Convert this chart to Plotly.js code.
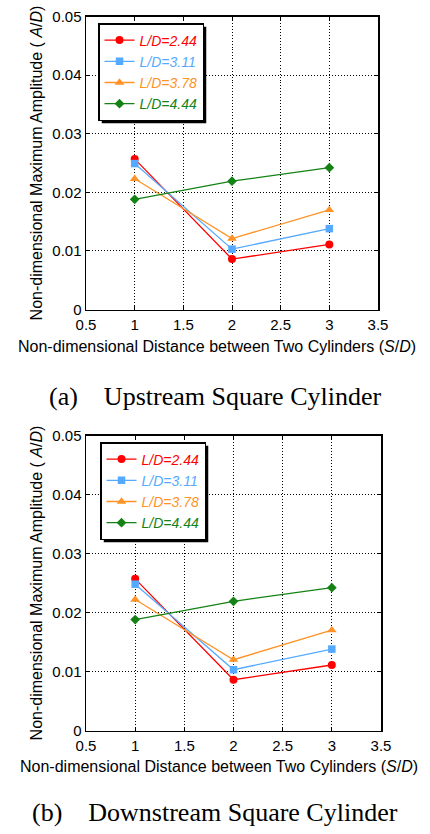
<!DOCTYPE html>
<html>
<head>
<meta charset="utf-8">
<script src="https://cdn.plot.ly/plotly-3.0.1.min.js"></script>
<style>html,body{margin:0;padding:0;background:#fff;}#chart{width:430px;height:834px;}</style>
</head>
<body>
<div id="chart"></div>
<script>
// Data (S/D positions and non-dimensional maximum amplitude A/D)
const spacing = [1, 2, 3];
const seriesNames = ["L/D=2.44", "L/D=3.11", "L/D=3.78", "L/D=4.44"];
// (a) Upstream square cylinder
const upLD244 = [0.0257, 0.0086, 0.0111];
const upLD311 = [0.0249, 0.0103, 0.0138];
const upLD378 = [0.0223, 0.0121, 0.0170];
const upLD444 = [0.0188, 0.0219, 0.0242];
// (b) Downstream square cylinder
const dnLD244 = [0.0257, 0.0086, 0.0111];
const dnLD311 = [0.0248, 0.0103, 0.0138];
const dnLD378 = [0.0222, 0.0120, 0.0170];
const dnLD444 = [0.0188, 0.0219, 0.0242];
const xTicks = [0.5, 1, 1.5, 2, 2.5, 3, 3.5];
const xTickText = ["0.5", "1", "1.5", "2", "2.5", "3", "3.5"];
const yTicks = [0, 0.01, 0.02, 0.03, 0.04, 0.05];
const yTickText = ["0", "0.01", "0.02", "0.03", "0.04", "0.05"];

const colors = ["#ff0000", "#55aaff", "#ff9326", "#148214"];
const symbols = ["circle", "square", "triangle-up", "diamond"];
const sizes = [8, 7.5, 8.5, 7.5];
const upData = [upLD244, upLD311, upLD378, upLD444];
const dnData = [dnLD244, dnLD311, dnLD378, dnLD444];

const traces = [];
function addSet(data, xa, ya, leg) {
  data.forEach((ys, i) => {
    traces.push({
      x: spacing, y: ys, xaxis: xa, yaxis: ya, legend: leg,
      type: "scatter", mode: "lines+markers",
      name: "<span style=\"color:" + colors[i] + "\"><i>" + seriesNames[i] + "</i></span>",
      line: {color: colors[i], width: 1.3},
      marker: {color: colors[i], symbol: symbols[i], size: sizes[i]},
      cliponaxis: false
    });
  });
}
addSet(upData, "x", "y", "legend");
addSet(dnData, "x2", "y2", "legend2");

const FONT = "Liberation Sans, Arial, sans-serif";
const tickFont = {family: FONT, size: 15, color: "#000"};
const titleFont = {family: FONT, size: 16, color: "#000"};
function xaxis(domain, anchor) {
  return {
    domain: domain, anchor: anchor, range: [0.5, 3.5],
    tickmode: "array", tickvals: xTicks, ticktext: xTickText,
    ticks: "inside", ticklen: 4, tickcolor: "#000", tickwidth: 1,
    showline: true, linecolor: "#000", linewidth: 1.5, mirror: "ticks",
    showgrid: true, gridcolor: "#000", gridwidth: 1, griddash: "1px,2px",
    zeroline: false, tickfont: tickFont, automargin: false, ticklabelstandoff: 1
  };
}
function yaxis(domain, anchor) {
  return {
    domain: domain, anchor: anchor, range: [0, 0.05],
    tickmode: "array", tickvals: yTicks, ticktext: yTickText,
    ticks: "inside", ticklen: 4, tickcolor: "#000", tickwidth: 1,
    showline: true, linecolor: "#000", linewidth: 1.5, mirror: "ticks",
    showgrid: true, gridcolor: "#000", gridwidth: 1, griddash: "1px,2px",
    zeroline: false, tickfont: tickFont, automargin: false,
    title: {text: "Non-dimensional Maximum Amplitude ( <i>A</i>/<i>D</i>)",
            font: titleFont, standoff: 5}
  };
}
const W = 430, H = 834;
const legendFont = {family: FONT, size: 14};
function legend(x, y) {
  return {
    x: x / W, y: 1 - y / H, xanchor: "left", yanchor: "top",
    bgcolor: "#fff", bordercolor: "#000", borderwidth: 1.5,
    font: legendFont, itemwidth: 30, tracegroupgap: 0,
    traceorder: "normal"
  };
}
function shadow(x0, y0, x1, y1) {
  return {type: "rect", xref: "paper", yref: "paper", layer: "above",
          x0: (x0 + 3) / W, x1: (x1 + 3) / W, y0: 1 - (y0 + 3) / H, y1: 1 - (y1 + 3) / H,
          fillcolor: "#000", line: {width: 0}};
}
const capFont = {family: "Liberation Serif, Times New Roman, serif", size: 26, color: "#000"};
const xTitle = "Non-dimensional Distance between Two Cylinders (<i>S</i>/<i>D</i>)";

const layout = {
  width: W, height: H,
  margin: {l: 0, r: 0, t: 0, b: 0},
  paper_bgcolor: "#fff", plot_bgcolor: "#fff",
  xaxis: xaxis([86 / W, 378 / W], "y"),
  yaxis: yaxis([1 - 309.5 / H, 1 - 16.5 / H], "x"),
  xaxis2: xaxis([86 / W, 381 / W], "y2"),
  yaxis2: yaxis([1 - 730.5 / H, 1 - 435.5 / H], "x2"),
  legend: legend(98, 23),
  legend2: legend(100, 442),
  shapes: [shadow(98, 23, 205, 110), shadow(100, 442, 207, 529)],
  annotations: [
    {text: xTitle, xref: "paper", yref: "paper",
     x: 217 / W, y: 1 - 346 / H, xanchor: "center", yanchor: "middle", showarrow: false,
     font: titleFont},
    {text: xTitle, xref: "paper", yref: "paper",
     x: 219 / W, y: 1 - 766 / H, xanchor: "center", yanchor: "middle", showarrow: false,
     font: titleFont},
    {text: "(a)&nbsp;&nbsp;&nbsp; Upstream Square Cylinder", xref: "paper", yref: "paper",
     x: 215 / W, y: 1 - 397 / H, xanchor: "center", yanchor: "middle", showarrow: false,
     font: capFont},
    {text: "(b)&nbsp;&nbsp;&nbsp; Downstream Square Cylinder", xref: "paper", yref: "paper",
     x: 215 / W, y: 1 - 812 / H, xanchor: "center", yanchor: "middle", showarrow: false,
     font: capFont}
  ]
};
Plotly.newPlot("chart", traces, layout, {staticPlot: true, displayModeBar: false}).then(gd => {
  // align the drop shadows with the rendered legend boxes
  const root = gd.getBoundingClientRect();
  const boxes = gd.querySelectorAll('g[class^="legend"] > rect.bg');
  const shapes = [];
  boxes.forEach(b => {
    const r = b.getBoundingClientRect();
    shapes.push(shadow(r.left - root.left, r.top - root.top, r.right - root.left, r.bottom - root.top));
  });
  if (shapes.length === 2) Plotly.relayout(gd, {shapes: shapes});
});
</script>
</body>
</html>
